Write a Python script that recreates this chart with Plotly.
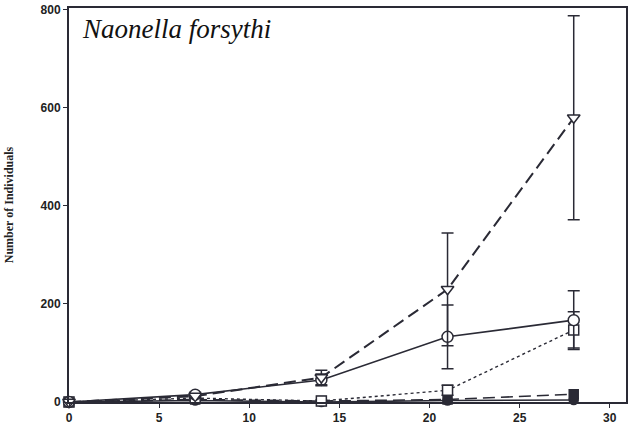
import plotly.graph_objects as go

days = [0, 7, 14, 21, 28]

tri_vals = [0, 12, 50, 230, 580]
tri_err = [0, 3, 15, 115, 208]

circ_vals = [0, 15, 45, 133, 167]
circ_err = [0, 5, 12, 65, 60]

sq_vals = [0, 8, 2, 24, 147]
sq_err = [0, 3, 2, 10, 37]

fsq_vals = [0, 5, 2, 5, 16]
fcirc_vals = [0, 3, 0, 3, 4]

x_ticks = [0, 5, 10, 15, 20, 25, 30]
y_ticks = [0, 200, 400, 600, 800]

ink = "#2a2a35"

fig = go.Figure()

def add(vals, err, symbol, dash, width=1.6, size=10, fill=False):
    fig.add_trace(go.Scatter(
        x=days, y=vals, mode="lines+markers",
        line=dict(color=ink, width=width, dash=dash),
        marker=dict(symbol=symbol, size=size,
                    color=ink if fill else "white",
                    line=dict(color=ink, width=1.5)),
        error_y=None if err is None else dict(type="data", array=err, visible=True,
                                               color=ink, thickness=1.5, width=6),
        showlegend=False, cliponaxis=False))

add(fcirc_vals, None, "circle", "solid", size=9, fill=True)
add(fsq_vals, None, "square", "12px,6px", size=9, fill=True)
add(sq_vals, sq_err, "square", "dot", width=1.4, size=10)
add(circ_vals, circ_err, "circle", "solid", size=11)
add(tri_vals, tri_err, "triangle-down", "12px,6px", width=2, size=11)

fig.update_layout(
    width=630, height=438,
    margin=dict(l=69, r=2, t=8, b=36),
    paper_bgcolor="white", plot_bgcolor="white",
    font=dict(family="Liberation Sans", color=ink),
    annotations=[dict(
        text="<i>Naonella forsythi</i>", x=0.02, y=0.99, xref="paper", yref="paper",
        xanchor="left", yanchor="top", showarrow=False,
        font=dict(family="Liberation Serif", size=27, color="#111"))],
)
fig.update_xaxes(
    range=[0, 30.9], tickvals=x_ticks, ticktext=[str(v) for v in x_ticks],
    showline=True, linecolor=ink, linewidth=2, mirror=True,
    ticks="outside", ticklen=4, tickcolor=ink, showgrid=False, zeroline=False,
    tickfont=dict(family="Liberation Sans", size=12, color="#222", weight="bold"))
fig.update_yaxes(
    range=[0, 804], tickvals=y_ticks, ticktext=[str(v) for v in y_ticks],
    showline=True, linecolor=ink, linewidth=2, mirror=True,
    ticks="outside", ticklen=4, tickcolor=ink, showgrid=False, zeroline=False,
    title=dict(text="<b>Number of Individuals</b>", standoff=24,
               font=dict(family="Liberation Serif", size=12, color="#222")),
    tickfont=dict(family="Liberation Sans", size=12, color="#222", weight="bold"))

fig.write_html("out.html")
